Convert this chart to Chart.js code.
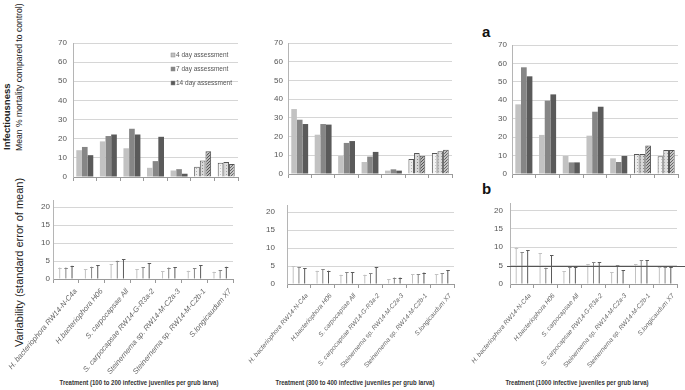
<!DOCTYPE html>
<html>
<head>
<meta charset="utf-8">
<script src="https://cdn.jsdelivr.net/npm/chart.js@4.4.1/dist/chart.umd.min.js"></script>
<style>
  body { margin: 0; width: 685px; height: 390px; background: #fff; position: relative; overflow: hidden;
         font-family: 'Liberation Sans', Arial, sans-serif; }
  canvas { position: absolute; }
  .rot { position: absolute; transform-origin: 0 0; transform: rotate(-90deg); white-space: nowrap; color: #222; }
  .xt { position: absolute; white-space: nowrap; transform: translateX(-50%) scaleX(0.86);
        font-weight: bold; font-size: 7px; color: #333; }
  .tag { position: absolute; font-weight: bold; font-size: 15px; color: #111; }
</style>
</head>
<body>
<div class="rot" style="left:1px; top:150px; font-size:9.5px; font-weight:bold; line-height:11px;">Infectiousness</div>
<div class="rot" style="left:14px; top:151px; font-size:8.6px; line-height:11px;">Mean % mortality compared to control)</div>
<div class="rot" style="left:13px; top:347px; font-size:11px; line-height:12px;">Variability (standard error of mean)</div>
<div class="tag" style="left:482px; top:23px;">a</div>
<div class="tag" style="left:482px; top:180px;">b</div>
<div class="xt" style="left:139px; top:379px;">Treatment (100 to 200 infective juveniles per grub larva)</div>
<div class="xt" style="left:355px; top:379px;">Treatment (300 to 400 infective juveniles per grub larva)</div>
<div class="xt" style="left:577px; top:379px;">Treatment (1000 infective juveniles per grub larva)</div>

<script>
// categorias y series
const categories = ['H. bacteriophora RW14-N-C4a', 'H.bacteriophora H06', 'S. carpocapsae All',
  'S. carpocapsae RW14-G-R3a-2', 'Steinernema sp. RW14-M-C2a-3', 'Steinernema sp. RW14-M-C2b-1', 'S.longicaudum X7'];
const seriesLabels = ['4 day assessment', '7 day assessment', '14 day assessment'];
const yTicksTop = [0, 10, 20, 30, 40, 50, 60, 70];
const yTicksBottom = [0, 5, 10, 15, 20];

// Infectiousness (mean % mortality)
const mort100_d4 = [14, 18.6, 15, 4.8, 3.4, 5.3, 7.4];
const mort100_d7 = [15.7, 21.4, 25.2, 8.3, 4.1, 8.6, 7.9];
const mort100_d14 = [11.4, 22.2, 22.2, 21, 1.7, 13.4, 6.8];
const mort300_d4 = [34.7, 21, 9.6, 6.4, 1.8, 8, 11.2];
const mort300_d7 = [29, 26.7, 16.6, 9.3, 2.5, 11.2, 12.1];
const mort300_d14 = [26.7, 26.4, 17.6, 11.8, 1.8, 9.8, 13];
const mort1000_d4 = [37.8, 21.2, 9.8, 20.8, 8.5, 10.8, 9.6];
const mort1000_d7 = [57.9, 39.8, 6.3, 33.8, 6.5, 10.8, 13];
const mort1000_d14 = [53, 43.2, 6.3, 36.5, 9.8, 15.4, 13];

// Variability (standard error of mean)
const se100_d4 = [3.2, 2.8, 4.2, 2.8, 2.1, 2.3, 2.0];
const se100_d7 = [3.2, 3.4, 5.1, 3.3, 3.2, 3.0, 2.4];
const se100_d14 = [3.7, 3.9, 5.6, 4.4, 3.3, 3.8, 3.4];
const se300_d4 = [5.0, 3.7, 2.6, 2.6, 1.4, 2.8, 2.8];
const se300_d7 = [4.6, 4.2, 3.3, 3.0, 1.8, 2.8, 3.0];
const se300_d14 = [4.4, 3.7, 3.3, 4.7, 1.8, 3.2, 3.9];
const se1000_d4 = [9.9, 8.3, 3.5, 5.4, 3.2, 5.4, 4.5];
const se1000_d7 = [8.7, 4.4, 4.5, 6.0, 5.1, 6.5, 4.5];
const se1000_d14 = [9.2, 7.8, 4.5, 6.0, 3.8, 6.5, 4.5];

const colors = ['#c2c2c2', '#868686', '#5a5a5a'];
const NARROW = "'Liberation Sans Narrow', 'Liberation Sans', sans-serif";

// patrones para los dos ultimos grupos
function makePattern(bg, fg, checker) {
  const c = document.createElement('canvas');
  c.width = 3; c.height = 3;
  const g = c.getContext('2d');
  g.fillStyle = bg; g.fillRect(0, 0, 3, 3);
  g.fillStyle = fg;
  g.fillRect(0, 0, 1, 1);
  if (checker) { g.fillRect(2, 1, 1, 1); g.fillRect(1, 2, 1, 1); }
  return g.createPattern(c, 'repeat');
}
const patterns = [
  [makePattern('#ececec', '#b0b0b0'), makePattern('#f4f4f4', '#c8c8c8')],
  [makePattern('#d8d8d8', '#8a8a8a'), makePattern('#dedede', '#a0a0a0')],
  [makePattern('#b8b8b8', '#555', true), makePattern('#c4c4c4', '#666', true)]
];

function topDatasets(arrs) {
  return arrs.map((d, i) => ({
    label: seriesLabels[i],
    data: d,
    backgroundColor: d.map((v, j) => j === 5 ? patterns[i][0] : j === 6 ? patterns[i][1] : colors[i]),
    borderColor: d.map((v, j) => j >= 5 ? '#555' : colors[i]),
    borderWidth: d.map((v, j) => j >= 5 ? 1 : 0),
    borderSkipped: 'bottom',
    categoryPercentage: 0.72,
    barPercentage: 1.0
  }));
}
function bottomDatasets(arrs) {
  return arrs.map((d, i) => ({
    label: seriesLabels[i],
    data: d,
    backgroundColor: colors[i],
    borderWidth: 0,
    maxBarThickness: 1,
    categoryPercentage: 0.72,
    barPercentage: 1.0
  }));
}

const capPlugin = {
  id: 'caps',
  afterDatasetsDraw(chart) {
    const ctx = chart.ctx;
    ctx.save();
    chart.data.datasets.forEach((ds, i) => {
      ctx.strokeStyle = ds.backgroundColor;
      ctx.lineWidth = 1;
      chart.getDatasetMeta(i).data.forEach(el => {
        const y = Math.round(el.y) + 0.5;
        ctx.beginPath(); ctx.moveTo(el.x - 1.5, y); ctx.lineTo(el.x + 2, y); ctx.stroke();
      });
    });
    ctx.restore();
  }
};

const legendPlugin = {
  id: 'innerLegend',
  afterDraw(chart) {
    const ctx = chart.ctx, a = chart.chartArea;
    ctx.save();
    ctx.font = '6.5px ' + NARROW;
    ctx.textBaseline = 'middle';
    chart.data.datasets.forEach((ds, i) => {
      const x = a.right - 67, y = a.top + 12 + i * 14;
      ctx.fillStyle = colors[i];
      ctx.fillRect(x, y - 2, 4, 4);
      ctx.strokeStyle = '#888'; ctx.lineWidth = 0.5;
      ctx.strokeRect(x, y - 2, 4, 4);
      ctx.fillStyle = '#555';
      ctx.fillText(ds.label, x + 5, y);
    });
    ctx.restore();
  }
};

const refLinePlugin = {
  id: 'refLine',
  afterDatasetsDraw(chart) {
    const ctx = chart.ctx, y = Math.round(chart.scales.y.getPixelForValue(5)) + 0.5;
    ctx.save();
    ctx.strokeStyle = '#555'; ctx.lineWidth = 1;
    ctx.beginPath(); ctx.moveTo(chart.chartArea.left - 3, y); ctx.lineTo(chart.width, y); ctx.stroke();
    ctx.restore();
  }
};

function makeChart(box, datasets, opts) {
  const cv = document.createElement('canvas');
  cv.width = box.w; cv.height = box.h;
  cv.style.left = box.left + 'px'; cv.style.top = box.top + 'px';
  document.body.appendChild(cv);
  const bottom = opts.bottom;
  return new Chart(cv.getContext('2d'), {
    type: 'bar',
    data: { labels: categories, datasets: datasets },
    plugins: opts.plugins || [],
    options: {
      responsive: false,
      animation: false,
      devicePixelRatio: 1,
      layout: { padding: { left: 0, right: box.pr, top: box.pt, bottom: 0 } },
      plugins: { legend: { display: false }, tooltip: { enabled: false }, title: { display: false } },
      scales: {
        x: {
          offset: true,
          grid: { offset: true, drawOnChartArea: false, drawTicks: true, tickLength: 4, color: '#9a9a9a' },
          border: { display: true, color: '#9a9a9a' },
          ticks: bottom ? {
            display: true, autoSkip: false, minRotation: 50, maxRotation: 50, padding: 4,
            labelOffset: opts.labelOffset,
            color: '#666', font: { size: opts.labelSize, style: 'italic', family: "'Liberation Sans', sans-serif" }
          } : { display: false },
          afterFit: s => { s.height = box.xH; s.paddingLeft = 0; s.paddingRight = 0; }
        },
        y: {
          min: 0,
          max: bottom ? 22 : 70,
          afterBuildTicks: s => { s.ticks = (bottom ? yTicksBottom : yTicksTop).map(v => ({ value: v })); },
          grid: { color: '#d6d6d6', drawTicks: false },
          border: { display: true, color: '#b5b5b5' },
          ticks: { padding: box.tp, color: '#555', font: { size: 8, family: NARROW } },
          afterFit: s => { s.width = box.yW; s.paddingTop = 0; s.paddingBottom = 0; }
        }
      }
    }
  });
}

// paneles superiores (a)
makeChart({ left: 40, top: 30, w: 203, h: 155, yW: 33, xH: 8, pt: 13, pr: 5, tp: 6 },
  topDatasets([mort100_d4, mort100_d7, mort100_d14]), { plugins: [legendPlugin] });
makeChart({ left: 255, top: 30, w: 202, h: 152, yW: 33, xH: 8, pt: 13, pr: 5, tp: 5 },
  topDatasets([mort300_d4, mort300_d7, mort300_d14]), {});
makeChart({ left: 478, top: 30, w: 205, h: 152, yW: 34, xH: 8, pt: 15, pr: 5, tp: 5 },
  topDatasets([mort1000_d4, mort1000_d7, mort1000_d14]), {});

// paneles inferiores (b)
makeChart({ left: 0, top: 190, w: 238, h: 200, yW: 53, xH: 111, pt: 10, pr: 5, tp: 3 },
  bottomDatasets([se100_d4, se100_d7, se100_d14]), { bottom: true, labelSize: 7.5, labelOffset: 10, plugins: [capPlugin] });
makeChart({ left: 235, top: 190, w: 224, h: 200, yW: 52, xH: 106, pt: 15, pr: 5, tp: 12 },
  bottomDatasets([se300_d4, se300_d7, se300_d14]), { bottom: true, labelSize: 6.5, labelOffset: 8, plugins: [capPlugin] });
makeChart({ left: 460, top: 190, w: 225, h: 200, yW: 50, xH: 106, pt: 13, pr: 8, tp: 7 },
  bottomDatasets([se1000_d4, se1000_d7, se1000_d14]), { bottom: true, labelSize: 6.5, labelOffset: 8, plugins: [capPlugin, refLinePlugin] });
</script>
</body>
</html>
